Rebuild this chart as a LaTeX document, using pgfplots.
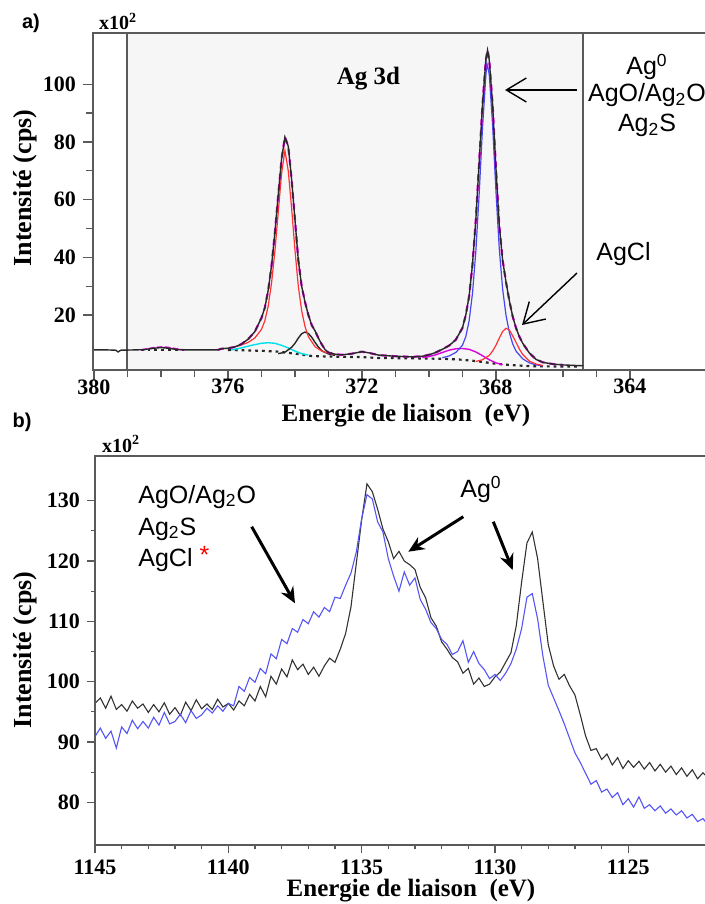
\documentclass[border=0pt]{standalone}
\usepackage{fontspec}
\setmainfont{Liberation Serif}
\newfontfamily\arial{Liberation Sans}
\usepackage{pgfplots}
\pgfplotsset{compat=1.18}
\usepackage{pgfplotstable}
\usetikzlibrary{arrows.meta}

\definecolor{axgray}{RGB}{90,90,90}
\definecolor{bgshade}{RGB}{246,246,246}
\definecolor{cblue}{RGB}{70,70,240}
\definecolor{cred}{RGB}{255,50,50}
\definecolor{cmag}{RGB}{220,0,220}
\definecolor{ccyan}{RGB}{0,225,235}
\definecolor{cblack}{RGB}{40,40,40}
\definecolor{sblue}{RGB}{85,85,245}
\definecolor{sblack}{RGB}{50,50,50}

\pgfplotstableread{
x y
380.03 7.9
379.6 7.9
379.35 7.8
379.28 7.2
379.2 7.8
378.8 7.9
378.5 8.0
378.2 8.5
378.0 8.7
377.8 8.5
377.5 8.0
377.2 7.9
376.3 7.9
376.2 8.3
376.0 8.5
375.8 8.9
375.6 9.9
375.4 11.6
375.2 14.2
375.0 19.0
374.9 22.5
374.8 28.5
374.7 37.0
374.6 48.5
374.5 61.5
374.4 74.0
374.3 81.7
374.2 78.5
374.1 67.0
374.0 53.0
373.9 39.0
373.8 30.0
373.7 24.5
373.6 20.0
373.5 16.5
373.4 14.5
373.3 12.0
373.2 9.8
373.1 8.0
373.0 7.0
372.8 6.4
372.6 6.2
372.3 6.6
372.0 7.3
371.8 6.9
371.5 6.1
371.0 5.7
370.5 5.5
370.2 5.7
370.0 6.2
369.8 7.0
369.6 8.1
369.4 9.4
369.2 11.4
369.0 15.5
368.9 20.0
368.8 26.5
368.7 37.5
368.6 53.0
368.5 73.0
368.4 93.0
368.3 108.5
368.25 111.8
368.2 108.5
368.1 93.0
368.0 71.0
367.9 51.0
367.8 39.0
367.7 31.5
367.6 25.0
367.5 19.5
367.4 15.5
367.3 12.5
367.2 10.2
367.0 6.8
366.8 4.6
366.6 3.6
366.3 3.0
366.0 2.7
365.4 2.4
}\envA

\pgfplotstableread{
x y
1145.0 96.4
1144.8 97.3
1144.6 95.6
1144.4 97.6
1144.2 95.4
1144.0 96.2
1143.8 95.1
1143.6 96.8
1143.4 95.6
1143.2 96.3
1143.0 94.9
1142.8 96.2
1142.6 95.0
1142.4 96.5
1142.2 94.6
1142.0 95.7
1141.8 94.4
1141.6 96.6
1141.4 95.2
1141.2 97.0
1141.0 95.5
1140.8 96.3
1140.6 95.4
1140.4 97.1
1140.2 95.8
1140.0 96.4
1139.8 95.3
1139.6 96.8
1139.4 96.0
1139.2 97.9
1139.0 96.8
1138.8 99.2
1138.6 97.5
1138.4 100.9
1138.2 99.6
1138.0 102.1
1137.8 100.8
1137.6 103.6
1137.4 102.0
1137.2 102.9
1137.0 101.2
1136.8 102.4
1136.6 100.9
1136.4 102.6
1136.2 103.9
1136.0 103.2
1135.8 105.4
1135.6 108.0
1135.4 112.4
1135.2 119.6
1135.0 126.8
1134.8 132.8
1134.6 131.5
1134.4 128.6
1134.2 125.3
1134.0 123.2
1133.8 120.4
1133.6 121.6
1133.4 120.0
1133.2 119.4
1133.0 118.6
1132.8 115.6
1132.6 113.9
1132.4 110.6
1132.2 109.2
1132.0 106.6
1131.8 105.4
1131.6 104.0
1131.4 103.3
1131.2 101.4
1131.0 102.2
1130.8 99.6
1130.6 100.6
1130.4 99.2
1130.2 99.6
1130.0 100.8
1129.8 101.6
1129.6 103.2
1129.4 104.8
1129.2 109.3
1129.0 116.5
1128.8 123.0
1128.6 124.8
1128.4 120.4
1128.2 113.2
1128.0 106.1
1127.8 102.6
1127.6 100.4
1127.4 101.2
1127.2 99.3
1127.0 97.8
1126.8 94.5
1126.6 91.0
1126.4 88.6
1126.2 88.9
1126.0 87.1
1125.8 88.0
1125.6 86.2
1125.4 87.4
1125.2 85.6
1125.0 86.9
1124.8 85.8
1124.6 86.8
1124.4 85.5
1124.2 86.6
1124.0 85.2
1123.8 86.3
1123.6 85.0
1123.4 86.0
1123.2 84.6
1123.0 85.7
1122.8 84.3
1122.6 85.4
1122.4 83.9
1122.2 84.9
1122.0 84.0
}\blackB

\pgfplotstableread{
x y
1145.0 90.9
1144.8 92.3
1144.6 90.6
1144.4 91.8
1144.2 89.0
1144.0 92.5
1143.8 91.4
1143.6 93.6
1143.4 92.2
1143.2 93.4
1143.0 92.3
1142.8 94.1
1142.6 92.8
1142.4 94.9
1142.2 93.0
1142.0 93.4
1141.8 94.6
1141.6 93.2
1141.4 95.2
1141.2 93.9
1141.0 94.5
1140.8 95.6
1140.6 94.8
1140.4 96.0
1140.2 95.1
1140.0 96.4
1139.8 96.0
1139.6 99.2
1139.4 98.4
1139.2 100.7
1139.0 99.9
1138.8 102.2
1138.6 101.3
1138.4 104.6
1138.2 103.8
1138.0 107.0
1137.8 106.3
1137.6 108.8
1137.4 108.2
1137.2 110.3
1137.0 109.6
1136.8 111.6
1136.6 110.7
1136.4 112.3
1136.2 111.6
1136.0 114.0
1135.8 113.8
1135.6 116.0
1135.4 118.0
1135.2 121.5
1135.0 127.0
1134.8 131.0
1134.6 130.3
1134.4 126.5
1134.2 124.8
1134.0 120.4
1133.8 117.5
1133.6 115.0
1133.4 118.2
1133.2 116.0
1133.0 117.2
1132.8 113.6
1132.6 112.0
1132.4 109.8
1132.2 108.8
1132.0 107.0
1131.8 106.2
1131.6 104.5
1131.4 105.0
1131.2 106.8
1131.0 103.2
1130.8 105.0
1130.6 103.0
1130.4 102.0
1130.2 100.5
1130.0 101.2
1129.8 100.2
1129.6 101.4
1129.4 103.0
1129.2 105.4
1129.0 108.8
1128.8 114.0
1128.6 114.6
1128.4 110.4
1128.2 104.2
1128.0 99.4
1127.8 97.3
1127.6 95.2
1127.4 93.0
1127.2 90.6
1127.0 88.2
1126.8 86.6
1126.6 84.8
1126.4 83.0
1126.2 83.6
1126.0 81.7
1125.8 82.2
1125.6 80.8
1125.4 81.6
1125.2 79.6
1125.0 80.6
1124.8 79.2
1124.6 80.9
1124.4 79.0
1124.2 79.6
1124.0 78.6
1123.8 79.4
1123.6 78.2
1123.4 78.9
1123.2 77.9
1123.0 78.6
1122.8 77.4
1122.6 78.0
1122.4 76.8
1122.2 77.3
1122.0 76.2
}\blueB

\pgfplotsset{xps/.style={
  scale only axis, x dir=reverse, axis on top,
  axis line style={axgray, line width=0.7pt},
  tick style={axgray, line width=0.6pt},
  tick align=outside, tick pos=left,
  major tick length=5pt, minor tick length=3.5pt,
  ticklabel style={font=\fontsize{11}{13}\selectfont\bfseries, text=black},
  /pgf/number format/assume math mode=true,
  /pgf/number format/1000 sep={},
}}

\begin{document}
\begin{tikzpicture}
\useasboundingbox (0,0) rectangle (352.5pt,-452pt);
\clip (0,0) rectangle (352.5pt,-452pt);

% ---------------- panel a ----------------
\begin{axis}[xps, at={(46.5pt,-185pt)}, anchor=south west,
  width=313.5pt, height=168.5pt,
  xmin=361.31, xmax=380.03, ymin=0.94, ymax=117.75,
  xtick={364,368,372,376,380}, minor x tick num=3,
  xticklabel style={yshift=1.5pt, inner sep=1pt},
  ytick={20,40,60,80,100}, minor y tick num=1]
\fill[bgshade] (axis cs:379.01,0.94) rectangle (axis cs:365.4,117.75);
\draw[axgray, line width=0.7pt] (axis cs:379.01,0.94) -- (axis cs:379.01,117.75);
\draw[axgray, line width=0.7pt] (axis cs:365.4,0.94) -- (axis cs:365.4,117.75);
% background
\addplot[cblack, line width=1.1pt, dash pattern=on 1.4pt off 2pt] coordinates {
(376.0,7.9) (375.0,7.6) (374.5,7.3) (374.0,6.6) (373.5,5.8) (373.0,5.6) (372.0,5.4) (371.5,5.1) (370.5,5.0) (369.5,4.8) (369.0,4.5) (368.5,3.9) (368.0,3.1) (367.5,2.6) (367.0,2.3) (366.5,2.2) (365.5,2.1)};
\addplot[cblack, line width=1.1pt, dash pattern=on 1.4pt off 2pt] coordinates {
(378.6,7.9) (377.3,7.9)};
% cyan component
\addplot[ccyan, line width=0.7pt] coordinates {
(375.9,7.9) (375.6,8.6) (375.3,9.5) (375.0,10.2) (374.8,10.4) (374.6,10.2) (374.4,9.5) (374.2,8.6) (374.0,7.5) (373.8,6.6) (373.6,6.1)};
% magenta small components
\addplot[cmag, line width=0.8pt, dash pattern=on 3pt off 1pt] coordinates {
(378.6,7.9) (378.4,8.3) (378.2,8.7) (378.0,8.9) (377.8,8.8) (377.6,8.4) (377.4,8.0) (377.3,7.9)};
\addplot[cmag, line width=0.7pt] coordinates {
(370.2,5.3) (370.0,5.6) (369.8,6.2) (369.6,7.0) (369.4,7.8) (369.2,8.3) (369.0,8.4) (368.8,8.1) (368.6,7.2) (368.4,5.9) (368.2,4.5) (368.0,3.4) (367.8,2.8)};
% small black component
\addplot[cblack, line width=0.7pt] coordinates {
(374.5,6.6) (374.3,7.1) (374.1,8.8) (374.0,10.2) (373.9,12.0) (373.8,13.5) (373.7,14.1) (373.6,13.6) (373.5,12.3) (373.4,10.5) (373.3,8.9) (373.2,7.6) (373.0,6.5) (372.8,6.0)};
% red main component
\addplot[cred, line width=0.6pt] coordinates {
(375.8,9.0) (375.6,9.6) (375.4,10.5) (375.2,12.0) (375.0,15.0) (374.9,18.0) (374.8,23.0) (374.7,31.0) (374.6,42.0) (374.5,55.5) (374.4,69.0) (374.3,77.0) (374.2,70.0) (374.1,57.0) (374.0,42.5) (373.9,30.0) (373.8,21.5) (373.7,16.0) (373.6,12.5) (373.4,9.0) (373.2,7.5) (373.0,6.8) (372.8,6.3)};
% blue main component
\addplot[cblue, line width=0.6pt] coordinates {
(369.6,5.2) (369.4,5.8) (369.2,7.0) (369.0,9.5) (368.9,12.5) (368.8,18.0) (368.7,27.5) (368.6,42.0) (368.5,62.0) (368.4,85.0) (368.3,103.0) (368.27,107.2) (368.2,103.5) (368.1,86.0) (368.0,63.0) (367.9,43.0) (367.8,29.0) (367.7,20.0) (367.6,14.0) (367.5,10.0) (367.4,7.5) (367.2,4.8) (367.0,3.4) (366.8,2.7) (366.6,2.4)};
% AgCl red component
\addplot[cred, line width=0.6pt] coordinates {
(368.6,3.9) (368.4,4.5) (368.2,6.0) (368.1,7.5) (368.0,9.5) (367.9,12.0) (367.8,14.3) (367.7,15.4) (367.6,14.8) (367.5,12.8) (367.4,10.5) (367.3,8.2) (367.2,6.3) (367.0,4.0) (366.8,3.0) (366.6,2.5)};
% envelope (fit under, data on top)
\addplot[cmag, line width=1.1pt, dash pattern=on 3pt off 2.5pt, restrict x to domain=365.6:376.3] table[x=x,y=y] {\envA};
\addplot[cblack, line width=0.7pt] table[x=x,y=y] {\envA};
\end{axis}

% ---------------- panel b ----------------
\begin{axis}[xps, at={(47.5pt,-422.5pt)}, anchor=south west,
  width=312.5pt, height=194.5pt,
  xmin=1121.56, xmax=1145.0, ymin=72.92, ymax=137.41,
  major tick length=4pt, minor tick length=2pt,
  xtick={1125,1130,1135,1140,1145}, minor x tick num=4,
  ytick={80,90,100,110,120,130}, minor y tick num=1]
\addplot[sblack, line width=0.55pt] table[x=x,y=y] {\blackB};
\addplot[sblue, line width=0.55pt] table[x=x,y=y] {\blueB};
\end{axis}

% ---------------- texts ----------------
\node[font=\arial\bfseries\fontsize{10}{12}\selectfont] at (15.5pt,-11.5pt) {a)};
\node[font=\arial\bfseries\fontsize{10}{12}\selectfont] at (11pt,-211pt) {b)};
\node[font=\bfseries\fontsize{10}{12}\selectfont, anchor=base] at (59pt,-15pt) {x10\textsuperscript{2}};
\node[font=\bfseries\fontsize{10}{12}\selectfont, anchor=base] at (60.5pt,-226pt) {x10\textsuperscript{2}};
\node[font=\bfseries\fontsize{13}{15}\selectfont, rotate=90] at (12.5pt,-94pt) {Intensité (cps)};
\node[font=\bfseries\fontsize{13}{15}\selectfont, rotate=90] at (12.5pt,-325pt) {Intensité (cps)};
\node[font=\bfseries\fontsize{12.5}{14}\selectfont, inner sep=0.5pt] at (203pt,-208pt) {Energie de liaison\ \ (eV)};
\node[font=\bfseries\fontsize{12.5}{14}\selectfont, inner sep=0.5pt] at (205.5pt,-445.5pt) {Energie de liaison\ \ (eV)};
\node[font=\bfseries\fontsize{12.5}{15}\selectfont, anchor=base] at (184.25pt,-42pt) {Ag 3d};

\begin{scope}[font=\arial\fontsize{12.5}{15}\selectfont]
\node[anchor=base] at (323.5pt,-37.5pt) {Ag\textsuperscript{0}};
\node[anchor=base] at (323.5pt,-51pt) {AgO/Ag\textsubscript{2}O};
\node[anchor=base] at (323.5pt,-66pt) {Ag\textsubscript{2}S};
\node[anchor=base] at (311.75pt,-130pt) {AgCl};
\node[anchor=base west, inner sep=0pt] at (69pt,-251.5pt) {AgO/Ag\textsubscript{2}O};
\node[anchor=base west, inner sep=0pt] at (69pt,-267.5pt) {Ag\textsubscript{2}S};
\node[anchor=base west, inner sep=0pt] at (69pt,-283.3pt) {AgCl \textcolor{red}{\raisebox{0.25ex}{*}}};
\node[anchor=base west, inner sep=0pt] at (230pt,-248.5pt) {Ag\textsuperscript{0}};
\end{scope}

\draw[black, line width=0.7pt, -{Straight Barb[length=10pt,width=12pt]}] (288.5pt,-45pt) -- (252.5pt,-45pt);
\draw[black, line width=0.7pt, -{Straight Barb[length=10pt,width=12pt]}] (288.5pt,-136.5pt) -- (261pt,-162.5pt);
\draw[black, line width=1.5pt, -{Stealth[length=8pt,width=7pt]}] (125.85pt,-263.35pt) -- (147.5pt,-301.65pt);
\draw[black, line width=1.5pt, -{Stealth[length=8pt,width=7pt]}] (231.65pt,-258.35pt) -- (204.15pt,-275.85pt);
\draw[black, line width=1.5pt, -{Stealth[length=8pt,width=7pt]}] (246.65pt,-260.85pt) -- (256.35pt,-285pt);
\end{tikzpicture}
\end{document}
